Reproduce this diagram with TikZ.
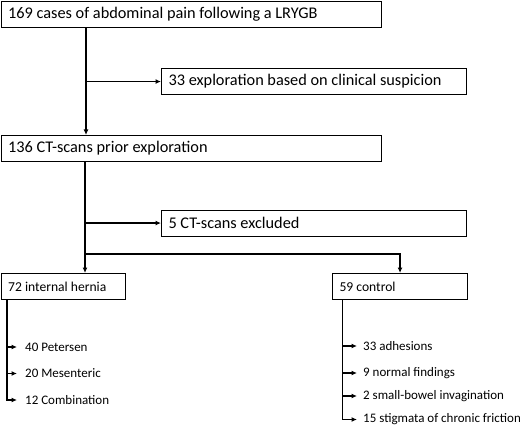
\documentclass[tikz,border=0pt]{standalone}
\usepackage{fontspec}
\setmainfont{Carlito}
\usetikzlibrary{arrows.meta,positioning}

\begin{document}
\begin{tikzpicture}[x=1pt,y=-1pt,
  box/.style={draw, line width=1.1pt, anchor=north west, minimum height=26pt,
    inner xsep=7pt, inner ysep=0pt, align=flush left, font=\fontsize{16.3}{18}\selectfont},
  item/.style={anchor=west, inner sep=0pt, font=\fontsize{13}{15}\selectfont},
  flow/.style={line width=1.3pt, -{Latex[length=5.5pt,width=5pt]}},
  link/.style={line width=1.3pt}]

\useasboundingbox (0,0) rectangle (520,428);

% main column
\node [box, text width=366pt] (cases) at (0.6,0.6) {169 cases of abdominal pain following a LRYGB};
\node [box, text width=291pt] (explore) at (161,68) {33 exploration based on clinical suspicion};
\node [box, text width=366pt] (ct) at (0.6,135) {136 CT-scans prior exploration};
\node [box, text width=291pt] (excluded) at (161,209.5) {5 CT-scans excluded};

% two groups
\node [box, text width=110pt, font=\fontsize{13.6}{15}\selectfont] (hernia) at (0.6,273) {72 internal hernia};
\node [box, text width=121pt, font=\fontsize{13.6}{15}\selectfont] (control) at (332,273) {59 control};

% sub items
\node [item] (petersen) at (25,347) {40 Petersen};
\node [item] (mesenteric) at (25,373.5) {20 Mesenteric};
\node [item] (combination) at (25,400) {12 Combination};

\node [item] (adhesions) at (363,346) {33 adhesions};
\node [item] (normal) at (363,373) {9 normal findings};
\node [item] (bowel) at (363,396) {2 small-bowel invagination};
\node [item] (friction) at (363,419.5) {15 stigmata of chronic friction};

% connectors
\coordinate (trunk1) at ([xshift=85.4pt]cases.south west);
\draw [flow] (trunk1) -- (trunk1 |- ct.north);
\draw [flow] (trunk1 |- explore.west) -- (explore.west);

\coordinate (trunk2) at ([xshift=84.4pt]ct.south west);
\coordinate (split) at ([yshift=19pt]trunk2 |- hernia.north);
\draw [link] (trunk2) -- (split);
\draw [flow] (trunk2 |- excluded.west) -- (excluded.west);
\draw [flow] (split) -- (split |- hernia.north);
\draw [flow] (split) -| (control.north);

\coordinate (hl) at ([xshift=6.4pt]hernia.south west);
\coordinate (cl) at ([xshift=10.3pt]control.south west);
\draw [flow] (hl) |- ([xshift=-8pt]petersen.west);
\draw [flow] (hl) |- ([xshift=-8pt]mesenteric.west);
\draw [flow] (hl) |- ([xshift=-8pt]combination.west);

\draw [flow] (cl) |- ([xshift=-6pt]adhesions.west);
\draw [flow] (cl) |- ([xshift=-6pt]normal.west);
\draw [flow] (cl) |- ([xshift=-6pt]bowel.west);
\draw [flow] (cl) |- ([xshift=-6pt]friction.west);
\end{tikzpicture}
\end{document}
